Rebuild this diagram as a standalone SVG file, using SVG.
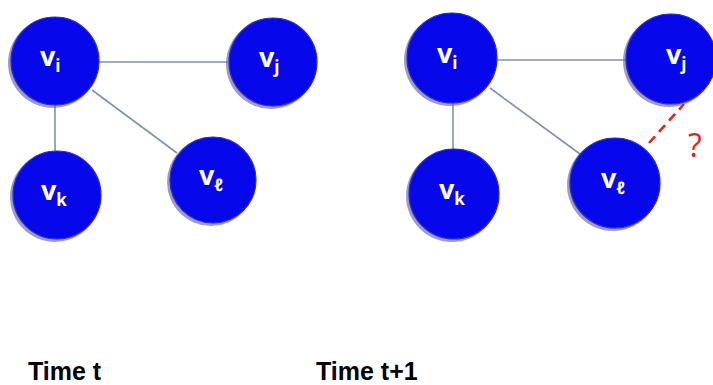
<svg xmlns="http://www.w3.org/2000/svg" width="713" height="385" viewBox="0 0 713 385">
  <defs>
    <style>
      .node { fill: #0707EC; stroke: #2a2ac8; stroke-width: 1.2; }
      .shadow { fill: #5a5aa8; opacity: 0.6; }
      .edge { stroke: #7d93a8; stroke-width: 1.6; fill: none; }
      .maybe { stroke: #e3221b; stroke-width: 2.6; stroke-dasharray: 9 6; fill: none; }
      .lbl { font-family: "Open Sans", "Liberation Sans", sans-serif; font-weight: bold; fill: #ffffff; font-size: 27px; }
      .sub { font-size: 17px; }
      .cap { font-family: "Liberation Sans", Arial, sans-serif; font-weight: bold; font-size: 25px; fill: #000000; }
      .q { font-family: "Open Sans", "Liberation Sans", sans-serif; font-size: 32px; fill: #e3221b; }
    </style>
  </defs>
  <rect width="713" height="385" fill="#ffffff"/>

  <!-- edges -->
  <g id="connectors">
    <line class="edge" x1="98" y1="62" x2="228" y2="62"/>
    <line class="edge" x1="55" y1="104" x2="55" y2="151"/>
    <line class="edge" x1="92" y1="90" x2="177" y2="153"/>
    <line class="edge" x1="497" y1="60" x2="626" y2="60"/>
    <line class="edge" x1="453" y1="103" x2="453" y2="149"/>
    <line class="edge" x1="490" y1="88" x2="580" y2="154"/>
    <line class="maybe" x1="649" y1="143" x2="684" y2="104"/>
  </g>
  <text class="q" x="688" y="157">?</text>

  <!-- time t -->
  <g id="t0-vi">
    <circle class="shadow" cx="53" cy="63" r="45"/>
    <circle class="node" cx="55" cy="61" r="44"/>
    <text class="lbl" x="40" y="66">v<tspan class="sub" dy="6">i</tspan></text>
  </g>
  <g id="t0-vj">
    <circle class="shadow" cx="271" cy="64" r="45"/>
    <circle class="node" cx="273" cy="62" r="44"/>
    <text class="lbl" x="259" y="67">v<tspan class="sub" dy="6">j</tspan></text>
  </g>
  <g id="t0-vk">
    <circle class="shadow" cx="55" cy="197" r="45"/>
    <circle class="node" cx="57" cy="195" r="44"/>
    <text class="lbl" x="41" y="200">v<tspan class="sub" dy="6">k</tspan></text>
  </g>
  <g id="t0-vl">
    <circle class="shadow" cx="211" cy="182" r="44"/>
    <circle class="node" cx="213" cy="180" r="43"/>
    <text class="lbl" x="199" y="185">v<tspan class="sub" dy="6">ℓ</tspan></text>
  </g>

  <!-- time t+1 -->
  <g id="t1-vi">
    <circle class="shadow" cx="450" cy="60" r="46"/>
    <circle class="node" cx="452" cy="58" r="45"/>
    <text class="lbl" x="437" y="63">v<tspan class="sub" dy="6">i</tspan></text>
  </g>
  <g id="t1-vj">
    <circle class="shadow" cx="669" cy="61" r="46"/>
    <circle class="node" cx="671" cy="59" r="45"/>
    <text class="lbl" x="666" y="64">v<tspan class="sub" dy="6">j</tspan></text>
  </g>
  <g id="t1-vk">
    <circle class="shadow" cx="452" cy="196" r="46"/>
    <circle class="node" cx="454" cy="194" r="45"/>
    <text class="lbl" x="439" y="199">v<tspan class="sub" dy="6">k</tspan></text>
  </g>
  <g id="t1-vl">
    <circle class="shadow" cx="613" cy="185" r="46"/>
    <circle class="node" cx="615" cy="183" r="45"/>
    <text class="lbl" x="601" y="188">v<tspan class="sub" dy="6">ℓ</tspan></text>
  </g>

  <text class="cap" x="28" y="380">Time t</text>
  <text class="cap" x="316" y="380">Time t+1</text>
</svg>
